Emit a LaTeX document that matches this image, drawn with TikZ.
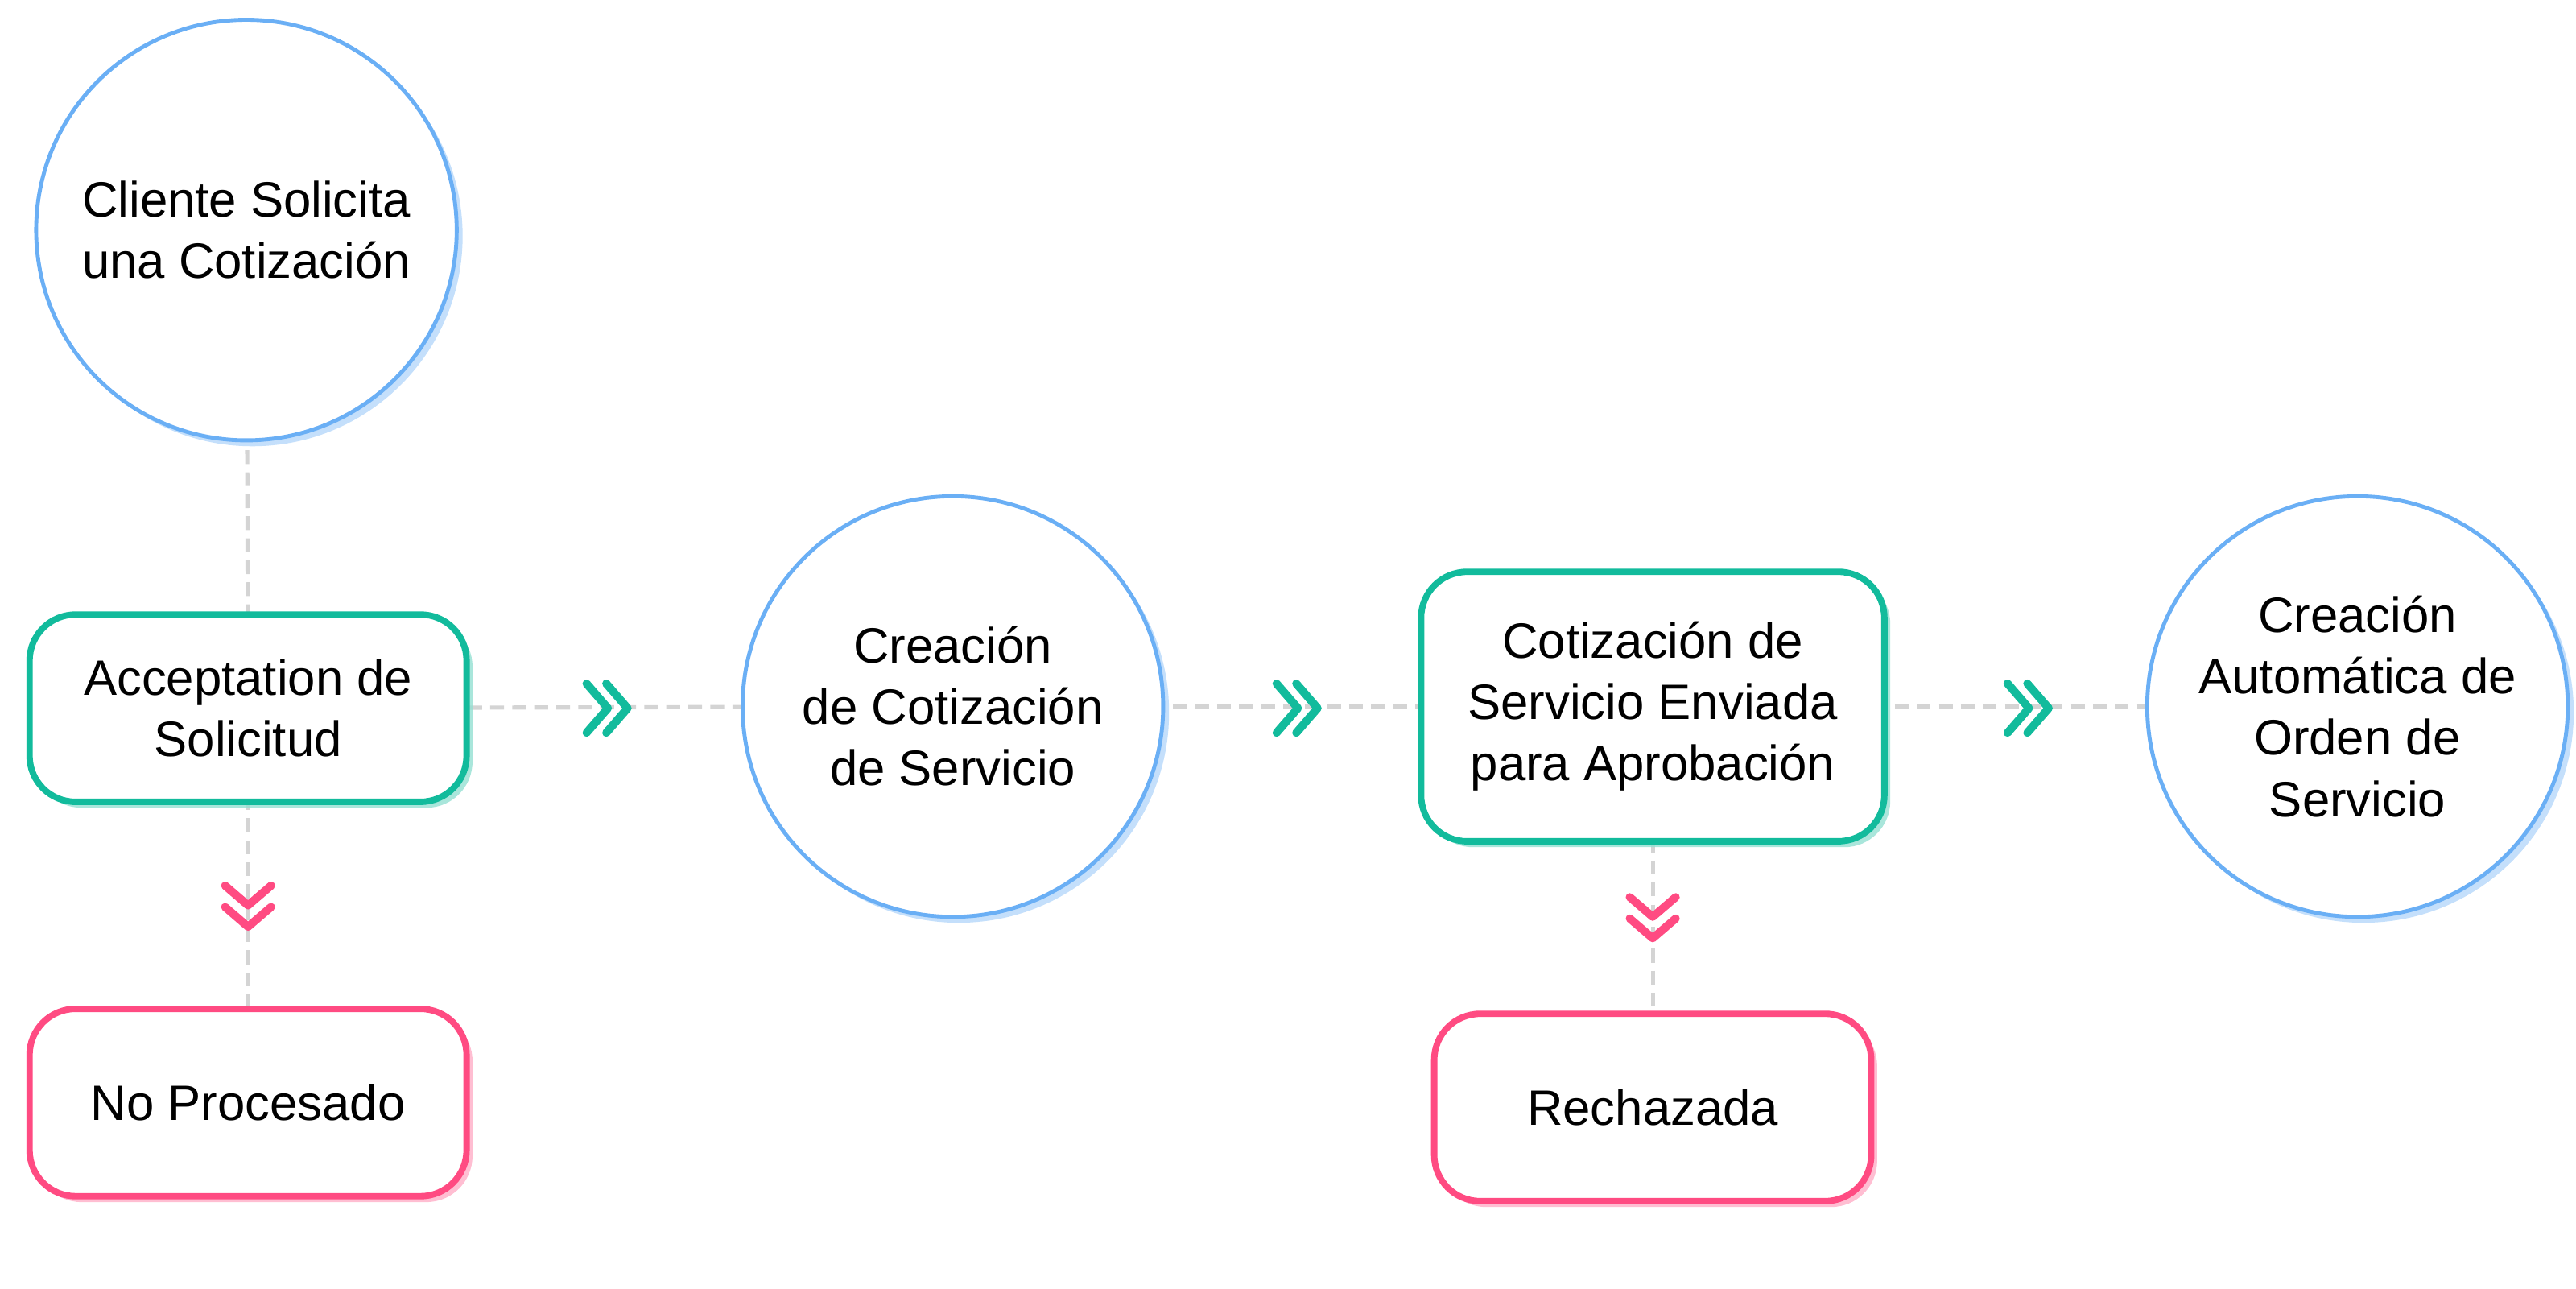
\documentclass[tikz,border=0pt]{standalone}
\usepackage{fontspec}
\setmainfont{Liberation Sans}
\usetikzlibrary{shadows}
\definecolor{cblue}{HTML}{6AAFF5}
\definecolor{cteal}{HTML}{12BB9C}
\definecolor{cpink}{HTML}{FF4B82}
\definecolor{cgray}{HTML}{D4D4D4}
\tikzset{
  base/.style={fill=white,align=center,font=\fontsize{43}{53}\selectfont,inner sep=0pt},
  circ/.style={base,circle,draw=cblue,line width=3.4pt,minimum size=12.8cm,
     drop shadow={shadow xshift=0.18cm,shadow yshift=-0.18cm,fill=cblue!50,opacity=0.8}},
  tbox/.style={base,rounded corners=1.4cm,draw=cteal,line width=5.5pt,
     drop shadow={shadow xshift=0.18cm,shadow yshift=-0.18cm,fill=cteal!45,opacity=0.8}},
  pbox/.style={base,rounded corners=1.4cm,draw=cpink,line width=5.5pt,
     drop shadow={shadow xshift=0.18cm,shadow yshift=-0.18cm,fill=cpink!45,opacity=0.8}},
  link/.style={draw=cgray,line width=3.6pt,dash pattern=on 0.42cm off 0.25cm},
  chevt/.style={draw=cteal,line width=7pt,line cap=round,line join=round},
  chevp/.style={draw=cpink,line width=7pt,line cap=round,line join=round},
}
\begin{document}
\begin{tikzpicture}[x=0.05cm,y=-0.05cm]
\useasboundingbox (0,0) rectangle (1568,784);
\coordinate (c1c) at (150,140);
\coordinate (acc) at (151,431);
\coordinate (npc) at (151,671);
\coordinate (c2c) at (580,430);
\coordinate (cotc) at (1006,430);
\coordinate (rec) at (1006,674);
\coordinate (c3c) at (1435,430);
\draw[link] (c1c) -- (acc);
\draw[link] (acc) -- (npc);
\draw[link] (acc) -- (c2c);
\draw[link] (c2c) -- (cotc);
\draw[link] (cotc) -- (rec);
\draw[link] (cotc) -- (c3c);
\node[circ] (c1) at (c1c) {Cliente Solicita\\una Cotización};
\node[tbox,minimum width=13.3cm,minimum height=5.7cm] (acc) at (acc) {Acceptation de\\Solicitud};
\node[pbox,minimum width=13.3cm,minimum height=5.7cm] (np) at (npc) {No Procesado};
\node[circ] (c2) at (c2c) {Creación\\de Cotización\\de Servicio};
\node[tbox,minimum width=14.1cm,minimum height=8.2cm] (cot) at (cotc) {Cotización de\\Servicio Enviada\\para Aprobación};
\node[pbox,minimum width=13.3cm,minimum height=5.7cm] (re) at (rec) {Rechazada};
\node[circ] (c3) at (c3c) {Creación\\Automática de\\Orden de\\Servicio};
\foreach \x in {357,369} \draw[chevt] (\x,416) -- (\x+13,431) -- (\x,446);
\foreach \x in {777,789} \draw[chevt] (\x,416) -- (\x+13,431) -- (\x,446);
\foreach \x in {1222,1234} \draw[chevt] (\x,416) -- (\x+13,431) -- (\x,446);
\foreach \y in {539,552} \draw[chevp] (137,\y) -- (151,\y+12) -- (165,\y);
\foreach \y in {546,559} \draw[chevp] (992,\y) -- (1006,\y+12) -- (1020,\y);
\end{tikzpicture}
\end{document}
